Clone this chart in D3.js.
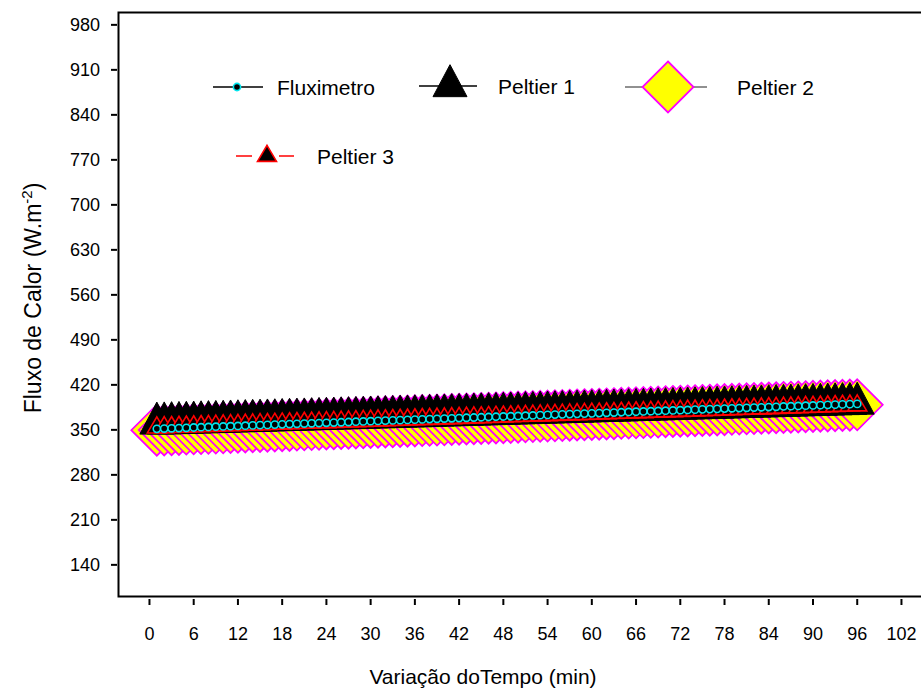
<!DOCTYPE html>
<html>
<head>
<meta charset="utf-8">
<script src="https://cdn.jsdelivr.net/npm/d3@7"></script>
<style>
  body { margin: 0; background: #fff; }
  svg text { font-family: "Liberation Sans", Arial, sans-serif; fill: #000; }
</style>
</head>
<body>
<div id="chart"></div>
<script>
// time (min) of each reading
const minutes = d3.range(1, 97);

const fluximetro = [
  351.6, 352.0, 352.4, 352.8, 353.2, 353.7, 354.1, 354.5, 354.9, 355.3,
  355.7, 356.1, 356.5, 356.9, 357.3, 357.7, 358.2, 358.6, 359.0, 359.4,
  359.8, 360.2, 360.6, 361.0, 361.4, 361.8, 362.2, 362.7, 363.1, 363.5,
  363.9, 364.3, 364.7, 365.1, 365.5, 365.9, 366.3, 366.7, 367.2, 367.6,
  368.0, 368.4, 368.8, 369.2, 369.6, 370.0, 370.4, 370.8, 371.2, 371.6,
  372.0, 372.4, 372.9, 373.3, 373.7, 374.1, 374.5, 374.9, 375.3, 375.7,
  376.1, 376.5, 376.9, 377.4, 377.8, 378.2, 378.6, 379.0, 379.4, 379.8,
  380.2, 380.6, 381.0, 381.4, 381.9, 382.3, 382.7, 383.1, 383.5, 383.9,
  384.3, 384.7, 385.1, 385.5, 385.9, 386.4, 386.8, 387.2, 387.6, 388.0,
  388.4, 388.8, 389.2, 389.6, 390.0, 390.4
];
const peltier1 = [
  360.0, 360.3, 360.7, 361.0, 361.3, 361.6, 362.0, 362.3, 362.6, 362.9,
  363.3, 363.6, 363.9, 364.3, 364.6, 364.9, 365.2, 365.6, 365.9, 366.2,
  366.5, 366.9, 367.2, 367.5, 367.8, 368.2, 368.5, 368.8, 369.1, 369.5,
  369.8, 370.1, 370.4, 370.8, 371.1, 371.4, 371.7, 372.1, 372.4, 372.7,
  373.1, 373.4, 373.7, 374.0, 374.4, 374.7, 375.0, 375.3, 375.7, 376.0,
  376.3, 376.6, 377.0, 377.3, 377.6, 377.9, 378.3, 378.6, 378.9, 379.2,
  379.6, 379.9, 380.2, 380.5, 380.9, 381.2, 381.5, 381.9, 382.2, 382.5,
  382.8, 383.2, 383.5, 383.8, 384.1, 384.5, 384.8, 385.1, 385.4, 385.8,
  386.1, 386.4, 386.7, 387.1, 387.4, 387.7, 388.0, 388.4, 388.7, 389.0,
  389.3, 389.7, 390.0, 390.3, 390.6, 391.0
];
const peltier2 = [
  349.5, 349.9, 350.3, 350.7, 351.2, 351.6, 352.0, 352.4, 352.8, 353.2,
  353.7, 354.1, 354.5, 354.9, 355.3, 355.7, 356.1, 356.6, 357.0, 357.4,
  357.8, 358.2, 358.6, 359.1, 359.5, 359.9, 360.3, 360.7, 361.1, 361.5,
  362.0, 362.4, 362.8, 363.2, 363.6, 364.0, 364.5, 364.9, 365.3, 365.7,
  366.1, 366.5, 366.9, 367.4, 367.8, 368.2, 368.6, 369.0, 369.4, 369.8,
  370.3, 370.7, 371.1, 371.5, 371.9, 372.3, 372.8, 373.2, 373.6, 374.0,
  374.4, 374.8, 375.2, 375.7, 376.1, 376.5, 376.9, 377.3, 377.7, 378.2,
  378.6, 379.0, 379.4, 379.8, 380.2, 380.6, 381.1, 381.5, 381.9, 382.3,
  382.7, 383.1, 383.6, 384.0, 384.4, 384.8, 385.2, 385.6, 386.0, 386.5,
  386.9, 387.3, 387.7, 388.1, 388.5, 389.0
];
const peltier3 = [
  353.5, 353.9, 354.2, 354.6, 355.0, 355.3, 355.7, 356.0, 356.4, 356.8,
  357.1, 357.5, 357.9, 358.2, 358.6, 358.9, 359.3, 359.7, 360.0, 360.4,
  360.8, 361.1, 361.5, 361.8, 362.2, 362.6, 362.9, 363.3, 363.7, 364.0,
  364.4, 364.7, 365.1, 365.5, 365.8, 366.2, 366.6, 366.9, 367.3, 367.6,
  368.0, 368.4, 368.7, 369.1, 369.4, 369.8, 370.2, 370.5, 370.9, 371.3,
  371.6, 372.0, 372.3, 372.7, 373.1, 373.4, 373.8, 374.2, 374.5, 374.9,
  375.2, 375.6, 376.0, 376.3, 376.7, 377.1, 377.4, 377.8, 378.1, 378.5,
  378.9, 379.2, 379.6, 379.9, 380.3, 380.7, 381.0, 381.4, 381.8, 382.1,
  382.5, 382.8, 383.2, 383.6, 383.9, 384.3, 384.7, 385.0, 385.4, 385.7,
  386.1, 386.5, 386.8, 387.2, 387.6, 387.9
];

const xTicks = [0, 6, 12, 18, 24, 30, 36, 42, 48, 54, 60, 66, 72, 78, 84, 90, 96, 102];
const yTicks = [140, 210, 280, 350, 420, 490, 560, 630, 700, 770, 840, 910, 980];

const w = 921, h = 692;
const padLeft = 118.5, padTop = 12.5, axisY = 596.5;

const x = d3.scaleLinear().domain([-4.2, 108]).range([padLeft, padLeft + 112.2 * 7.3725]);
const y = d3.scaleLinear().domain([90, 1000]).range([597, 12]);

const svg = d3.select("#chart").append("svg")
    .attr("width", w)
    .attr("height", h);

// symbol paths
const tri = (tw, th) => `M0,${-2 * th / 3}L${tw / 2},${th / 3}L${-tw / 2},${th / 3}Z`;
const diamond = s => `M0,${-s}L${s},0L0,${s}L${-s},0Z`;

const series = [
  {name: "Peltier 2", values: peltier2, line: "#222", lw: 1, path: diamond(25.5), fill: "#ffff00", stroke: "#ff00ff", sw: 1.8},
  {name: "Peltier 1", values: peltier1, line: "#000", lw: 1.5, path: tri(34, 32), fill: "#000", stroke: "#000", sw: 1},
  {name: "Peltier 3", values: peltier3, line: "#ff0000", lw: 1.5, path: tri(19, 16), fill: "#000", stroke: "#ff0000", sw: 1.6},
  {name: "Fluximetro", values: fluximetro, line: "#000", lw: 1.5, circle: 3.6, fill: "#000", stroke: "#00e5ee", sw: 1.6}
];

const lineGen = d3.line()
    .x((d, i) => x(minutes[i]))
    .y(d => y(d));

const plot = svg.append("g");
series.forEach(s => {
    plot.append("path")
        .attr("d", lineGen(s.values))
        .attr("fill", "none")
        .attr("stroke", s.line)
        .attr("stroke-width", s.lw);
    const g = plot.append("g");
    if (s.circle) {
        g.selectAll("circle")
            .data(s.values)
            .enter()
            .append("circle")
            .attr("cx", (d, i) => x(minutes[i]))
            .attr("cy", d => y(d))
            .attr("r", s.circle)
            .attr("fill", s.fill)
            .attr("stroke", s.stroke)
            .attr("stroke-width", s.sw);
    } else {
        g.selectAll("path")
            .data(s.values)
            .enter()
            .append("path")
            .attr("d", s.path)
            .attr("transform", (d, i) => `translate(${x(minutes[i])},${y(d)})`)
            .attr("fill", s.fill)
            .attr("stroke", s.stroke)
            .attr("stroke-width", s.sw)
            .attr("stroke-linejoin", "miter");
    }
});

// frame
svg.append("path")
    .attr("d", `M${w + 5},${padTop}H${padLeft}V${axisY}H${w + 5}`)
    .attr("fill", "none")
    .attr("stroke", "#000")
    .attr("stroke-width", 2);

// y axis ticks
svg.append("g")
    .selectAll("line")
    .data(yTicks)
    .enter()
    .append("line")
    .attr("x1", 111).attr("x2", 117)
    .attr("y1", d => y(d)).attr("y2", d => y(d))
    .attr("stroke", "#000").attr("stroke-width", 2);
svg.append("g")
    .selectAll("text")
    .data(yTicks)
    .enter()
    .append("text")
    .attr("x", 100)
    .attr("y", d => y(d) + 6.5)
    .attr("text-anchor", "end")
    .attr("font-size", 18)
    .text(d => d);

// x axis ticks
svg.append("g")
    .selectAll("line")
    .data(xTicks)
    .enter()
    .append("line")
    .attr("x1", d => x(d)).attr("x2", d => x(d))
    .attr("y1", 599).attr("y2", 605)
    .attr("stroke", "#000").attr("stroke-width", 2);
svg.append("g")
    .selectAll("text")
    .data(xTicks)
    .enter()
    .append("text")
    .attr("x", d => x(d))
    .attr("y", 640)
    .attr("text-anchor", "middle")
    .attr("font-size", 18)
    .text(d => d);

// axis titles
svg.append("text")
    .attr("x", 483)
    .attr("y", 684)
    .attr("text-anchor", "middle")
    .attr("font-size", 21)
    .text("Variação doTempo (min)");

const yt = svg.append("text")
    .attr("transform", "translate(41,298) rotate(-90)")
    .attr("text-anchor", "middle")
    .attr("font-size", 23);
yt.append("tspan").text("Fluxo de Calor (W.m");
yt.append("tspan").attr("dy", -9).attr("font-size", 15).text("-2");
yt.append("tspan").attr("dy", 9).text(")");

// legend
const leg = svg.append("g");
const legItems = [
  {s: series[3], x1: 213, x2: 263, mx: 237, my: 87, tx: 277},
  {s: series[1], x1: 419, x2: 477, mx: 450, my: 86, tx: 498},
  {s: series[0], x1: 625, x2: 707, mx: 668, my: 87, tx: 737},
  {s: series[2], x1: 236, x2: 294, mx: 267, my: 156, tx: 317, gap: 12}
];
legItems.forEach(it => {
    const s = it.s;
    if (it.gap) {
        leg.append("line").attr("x1", it.x1).attr("x2", it.mx - it.gap - 3)
            .attr("y1", it.my).attr("y2", it.my).attr("stroke", s.line).attr("stroke-width", s.lw);
        leg.append("line").attr("x1", it.mx + it.gap).attr("x2", it.x2)
            .attr("y1", it.my).attr("y2", it.my).attr("stroke", s.line).attr("stroke-width", s.lw);
    } else {
        leg.append("line").attr("x1", it.x1).attr("x2", it.x2)
            .attr("y1", it.my).attr("y2", it.my).attr("stroke", s.line).attr("stroke-width", s.lw);
    }
    if (s.circle) {
        leg.append("circle").attr("cx", it.mx).attr("cy", it.my).attr("r", s.circle)
            .attr("fill", s.fill).attr("stroke", s.stroke).attr("stroke-width", s.sw);
    } else {
        leg.append("path").attr("d", s.path)
            .attr("transform", `translate(${it.mx},${it.my})`)
            .attr("fill", s.fill).attr("stroke", s.stroke).attr("stroke-width", s.sw);
    }
    leg.append("text")
        .attr("x", it.tx)
        .attr("y", it.my + 8)
        .attr("font-size", 21)
        .text(s.name);
});
</script>
</body>
</html>
